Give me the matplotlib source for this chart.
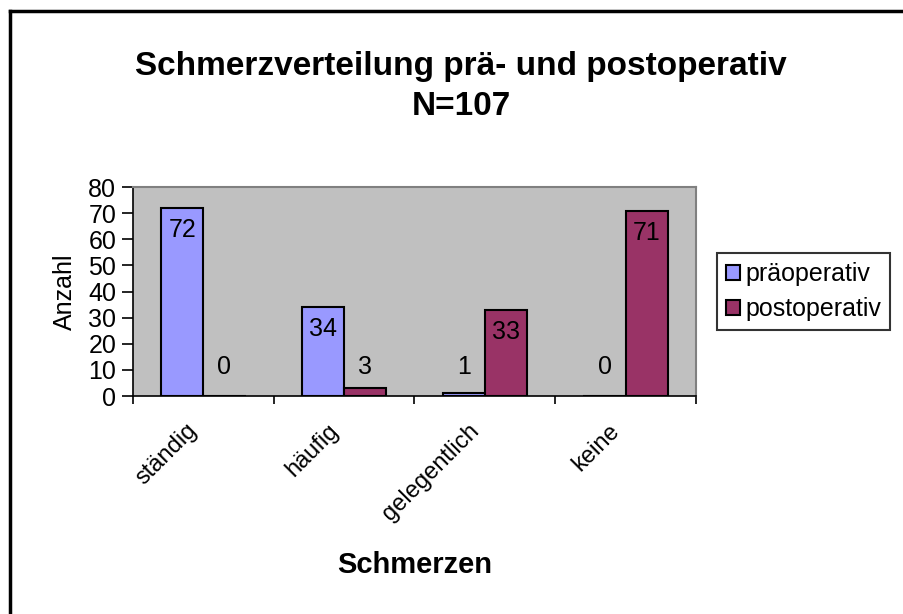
import numpy as np
import matplotlib
matplotlib.use('Agg')
import matplotlib.pyplot as plt
from matplotlib.lines import Line2D
from matplotlib.transforms import ScaledTranslation

plt.rcParams['font.family'] = ['Liberation Sans', 'DejaVu Sans']

categories = ['ständig', 'häufig', 'gelegentlich', 'keine']
pre_values = [72, 34, 1, 0]
post_values = [0, 3, 33, 71]
series_names = ['präoperativ', 'postoperativ']
yticks = [0, 10, 20, 30, 40, 50, 60, 70, 80]

PRE_COLOR = '#9999FF'
POST_COLOR = '#993366'
BG_COLOR = '#C0C0C0'
FS = 18

fig = plt.figure(figsize=(9.04, 6.14), dpi=100)
ax = fig.add_axes([0.1471, 0.3550, 0.6228, 0.3404])
ax.set_facecolor(BG_COLOR)

x = np.arange(len(categories))
w = 0.3
ax.bar(x - w / 2, pre_values, width=w, color=PRE_COLOR, edgecolor='black', linewidth=1.5,
       label=series_names[0], zorder=2)
ax.bar(x + w / 2, post_values, width=w, color=POST_COLOR, edgecolor='black', linewidth=1.5,
       label=series_names[1], zorder=2)

# value labels: inside end for tall bars, above the bar for short ones
for xs, vals in ((x - w / 2, pre_values), (x + w / 2, post_values)):
    for xi, v in zip(xs, vals):
        if v >= 20:
            ax.annotate(str(v), (xi, v), xytext=(0, -16), textcoords='offset points',
                        ha='center', va='center', fontsize=FS, zorder=3)
        else:
            ax.annotate(str(v), (xi, 0), xytext=(0, 21), textcoords='offset points',
                        ha='center', va='center', fontsize=FS, zorder=3)

ax.set_xlim(-0.5, len(categories) - 0.5)
ax.set_ylim(0, 80)
ax.set_yticks(yticks)
ax.tick_params(axis='y', direction='out', length=8, width=1.2, labelsize=FS, pad=4)

ax.set_xticks(np.arange(len(categories) + 1) - 0.5)
ax.set_xticklabels([])
ax.tick_params(axis='x', which='major', direction='out', length=6, width=1.2)
ax.set_xticks(x, minor=True)
ax.set_xticklabels(categories, minor=True, rotation=45, ha='right', va='top',
                   rotation_mode='anchor', fontsize=17)
ax.tick_params(axis='x', which='minor', length=0, pad=17)
shift = ScaledTranslation(-0.17, 0, fig.dpi_scale_trans)
for lab in ax.get_xticklabels(minor=True):
    lab.set_transform(lab.get_transform() + shift)

for s in ('left', 'bottom'):
    ax.spines[s].set_color('black')
    ax.spines[s].set_linewidth(1.2)
for s in ('top', 'right'):
    ax.spines[s].set_color('#808080')
    ax.spines[s].set_linewidth(1.5)

ax.set_ylabel('Anzahl', fontsize=FS)
ax.yaxis.set_label_coords(-0.121, 0.5)
ax.yaxis.label.set_va('center')
ax.set_xlabel('Schmerzen', fontsize=21, fontweight='bold')
ax.xaxis.set_label_coords(0.5, -0.809)
ax.xaxis.label.set_va('center')

fig.text(0.51, 0.892, 'Schmerzverteilung prä- und postoperativ', ha='center', va='center',
         fontsize=24, fontweight='bold')
fig.text(0.51, 0.826, 'N=107', ha='center', va='center', fontsize=24, fontweight='bold')

leg = ax.legend(loc='upper left', bbox_to_anchor=(0.7932, 0.5877), bbox_transform=fig.transFigure,
                fontsize=FS, frameon=True, fancybox=False, edgecolor='black', handlelength=0.55,
                handleheight=0.55, handletextpad=0.25, borderpad=0.35, labelspacing=0.45,
                borderaxespad=0)
leg.get_frame().set_linewidth(1.5)

# chart border: only left and top edges visible
fig.add_artist(Line2D([9.5 / 904, 9.5 / 904], [0, 1 - 11 / 614], color='black', linewidth=2.5,
                      transform=fig.transFigure))
fig.add_artist(Line2D([9.5 / 904, 1], [1 - 11 / 614, 1 - 11 / 614], color='black', linewidth=2.5,
                      transform=fig.transFigure))

fig.savefig('out.png', dpi=100)
